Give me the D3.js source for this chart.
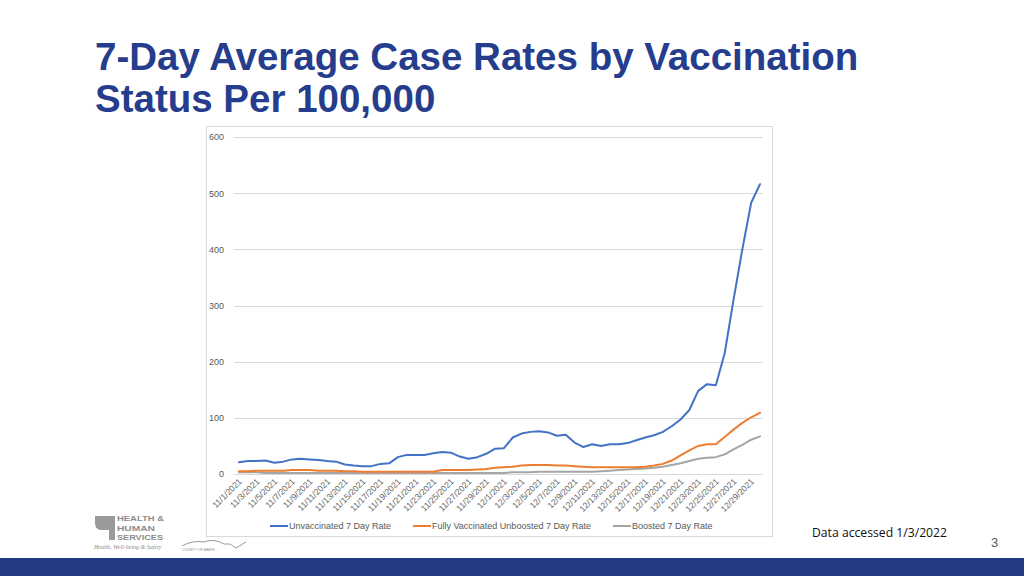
<!DOCTYPE html>
<html>
<head>
<meta charset="utf-8">
<script src="https://cdn.jsdelivr.net/npm/d3@7"></script>
<style>
  html, body { margin: 0; padding: 0; background: #fff; }
  svg { display: block; }
</style>
</head>
<body>
<svg id="chart" width="1024" height="576"></svg>
<script>
// ---------- Data ----------
const startDate = "2021-11-01";
const dayCount = 60; // 11/1/2021 .. 12/30/2021
const unvaccinated = [21, 23, 23, 24, 20, 22, 26, 27, 26, 25, 23, 22, 17, 15, 14, 14, 18, 19, 30, 34,
  34, 34, 37, 39, 38, 31, 27, 30, 36, 45, 46, 65, 72, 75, 76, 74, 68, 70, 56, 48,
  53, 50, 53, 53, 55, 60, 65, 69, 75, 85, 97, 114, 148, 160, 158, 215, 310, 400, 483, 516];
const fullyVaccinatedUnboosted = [5, 5, 6, 6, 6, 6, 7, 7, 7, 6, 6, 6, 5, 5, 4, 4, 4, 4, 4, 4,
  4, 4, 4, 7, 7, 7, 7, 8, 9, 11, 12, 13, 15, 16, 16, 16, 15, 15, 14, 13,
  12, 12, 12, 12, 12, 12, 13, 15, 18, 24, 33, 42, 50, 53, 53, 66, 79, 91, 101, 109];
const boosted = [3, 3, 3, 2, 2, 2, 2, 2, 2, 2, 2, 2, 2, 2, 2, 2, 2, 2, 2, 2,
  2, 2, 2, 2, 2, 2, 2, 2, 2, 2, 2, 3, 3, 3, 4, 4, 4, 4, 4, 4,
  4, 5, 6, 7, 8, 9, 10, 11, 13, 16, 19, 23, 27, 29, 30, 35, 44, 52, 61, 67];
const seriesNames = ["Unvaccinated 7 Day Rate", "Fully Vaccinated Unboosted 7 Day Rate", "Boosted 7 Day Rate"];
const seriesColors = ["#4472c4", "#ed7d31", "#a5a5a5"];
const yTicks = [0, 100, 200, 300, 400, 500, 600];
const titleLines = ["7-Day Average Case Rates by Vaccination", "Status Per 100,000"];
const footnote = "Data accessed 1/3/2022";
const pageNumber = "3";
const logoLines = ["HEALTH &", "HUMAN", "SERVICES"];

// ---------- Build dates ----------
const parse = d3.timeParse("%Y-%m-%d");
const d0 = parse(startDate);
const dates = d3.range(dayCount).map(i => d3.timeDay.offset(d0, i));
const fmt = d => `${d.getMonth() + 1}/${d.getDate()}/${d.getFullYear()}`;
const tickDates = dates.filter((d, i) => i % 2 === 0);

const svg = d3.select("#chart");

// ---------- Title ----------
svg.append("g").selectAll("text").data(titleLines).join("text")
  .attr("x", 95).attr("y", (d, i) => 70 + i * 42)
  .attr("font-family", "'Liberation Sans', Arial, sans-serif")
  .attr("font-weight", "bold").attr("font-size", 38.5)
  .attr("fill", "#253d8c")
  .text(d => d);

// ---------- Chart box ----------
svg.append("rect").attr("x", 206.5).attr("y", 126.5).attr("width", 566).attr("height", 410)
  .attr("fill", "#fff").attr("stroke", "#d9d9d9").attr("stroke-width", 1);

const plot = { left: 234, right: 763, top: 137, bottom: 474 };
const x = d3.scalePoint().domain(dates.map(fmt)).range([239, 760]);
const y = d3.scaleLinear().domain([0, 600]).range([plot.bottom, plot.top]);

// gridlines
svg.append("g").selectAll("line").data(yTicks).join("line")
  .attr("x1", plot.left).attr("x2", plot.right)
  .attr("y1", d => Math.round(y(d)) + 0.5).attr("y2", d => Math.round(y(d)) + 0.5)
  .attr("stroke", "#d9d9d9").attr("stroke-width", 1);

// y axis labels
const yAxis = d3.axisLeft(y).tickValues(yTicks).tickSize(0).tickPadding(0);
const gy = svg.append("g").attr("transform", `translate(${224},0)`).call(yAxis);
gy.select(".domain").remove();
gy.selectAll("text").attr("font-family", "'Liberation Sans', Arial, sans-serif")
  .attr("font-size", 9).attr("fill", "#595959");

// x axis labels
const xAxis = d3.axisBottom(x).tickValues(tickDates.map(fmt)).tickSize(0).tickPadding(0);
const gx = svg.append("g").attr("transform", `translate(0,${plot.bottom})`).call(xAxis);
gx.select(".domain").remove();
gx.selectAll("text")
  .attr("font-family", "'Liberation Sans', Arial, sans-serif")
  .attr("font-size", 8.6).attr("fill", "#666")
  .attr("text-anchor", "end")
  .attr("dy", 0)
  .attr("transform", "translate(3,8) rotate(-45)");

// ---------- Lines ----------
const allSeries = [unvaccinated, fullyVaccinatedUnboosted, boosted];
const line = d3.line().x((d, i) => x(fmt(dates[i]))).y(d => y(d)).curve(d3.curveLinear);
svg.append("g").selectAll("path").data(allSeries.slice().reverse()).join("path")
  .attr("d", d => line(d))
  .attr("fill", "none")
  .attr("stroke", (d, i) => seriesColors[2 - i])
  .attr("stroke-width", 2)
  .attr("stroke-linejoin", "round")
  .attr("stroke-linecap", "round");

// ---------- Legend ----------
const legendX = [270, 413, 613];
const lg = svg.append("g").selectAll("g").data(seriesNames).join("g")
  .attr("transform", (d, i) => `translate(${legendX[i]},526)`);
lg.append("line").attr("x1", 0).attr("x2", 18).attr("y1", 0).attr("y2", 0)
  .attr("stroke", (d, i) => seriesColors[i]).attr("stroke-width", 2);
lg.append("text").attr("x", 19).attr("y", 3.2)
  .attr("font-family", "'Liberation Sans', Arial, sans-serif")
  .attr("font-size", 9).attr("fill", "#595959")
  .text(d => d);

// ---------- Footer ----------
svg.append("text").attr("x", 812).attr("y", 537)
  .attr("font-family", "'Open Sans', 'Liberation Sans', sans-serif")
  .attr("font-size", 12.2).attr("fill", "#111").text(footnote);
svg.append("text").attr("x", 991).attr("y", 547)
  .attr("font-family", "'Liberation Sans', Arial, sans-serif")
  .attr("font-size", 13).attr("fill", "#595959").text(pageNumber);
svg.append("rect").attr("x", 0).attr("y", 558).attr("width", 1024).attr("height", 18)
  .attr("fill", "#233a84");

// ---------- Logo (approximation) ----------
const logo = svg.append("g").attr("fill", "#8c8c8c")
  .attr("font-family", "'Liberation Sans', Arial, sans-serif");
logo.append("path")
  .attr("d", "M95,516 h20 v24 h-6 v-10 h-9 a7,7 0 0 1 -5,-7 z")
  .attr("fill", "#9a9a9a");
logo.selectAll("text.l").data(logoLines).join("text").attr("class", "l")
  .attr("x", 117).attr("y", (d, i) => 521 + i * 9.6)
  .attr("font-size", 8).attr("font-weight", "bold")
  .attr("textLength", (d, i) => [47, 38, 46][i]).attr("lengthAdjust", "spacingAndGlyphs")
  .text(d => d);
logo.append("text").attr("x", 94).attr("y", 549).attr("font-size", 6)
  .attr("font-family", "'Liberation Serif', serif").attr("font-style", "italic").text("Health, Well-being & Safety");
logo.append("path").attr("d", "M182,546 q10,-6 22,-4 q10,-4 20,2 l6,0 l6,4 l10,-6")
  .attr("fill", "none").attr("stroke", "#999").attr("stroke-width", 1);
logo.append("text").attr("x", 182).attr("y", 551).attr("font-size", 3.5).text("COUNTY OF MARIN");
</script>
</body>
</html>
